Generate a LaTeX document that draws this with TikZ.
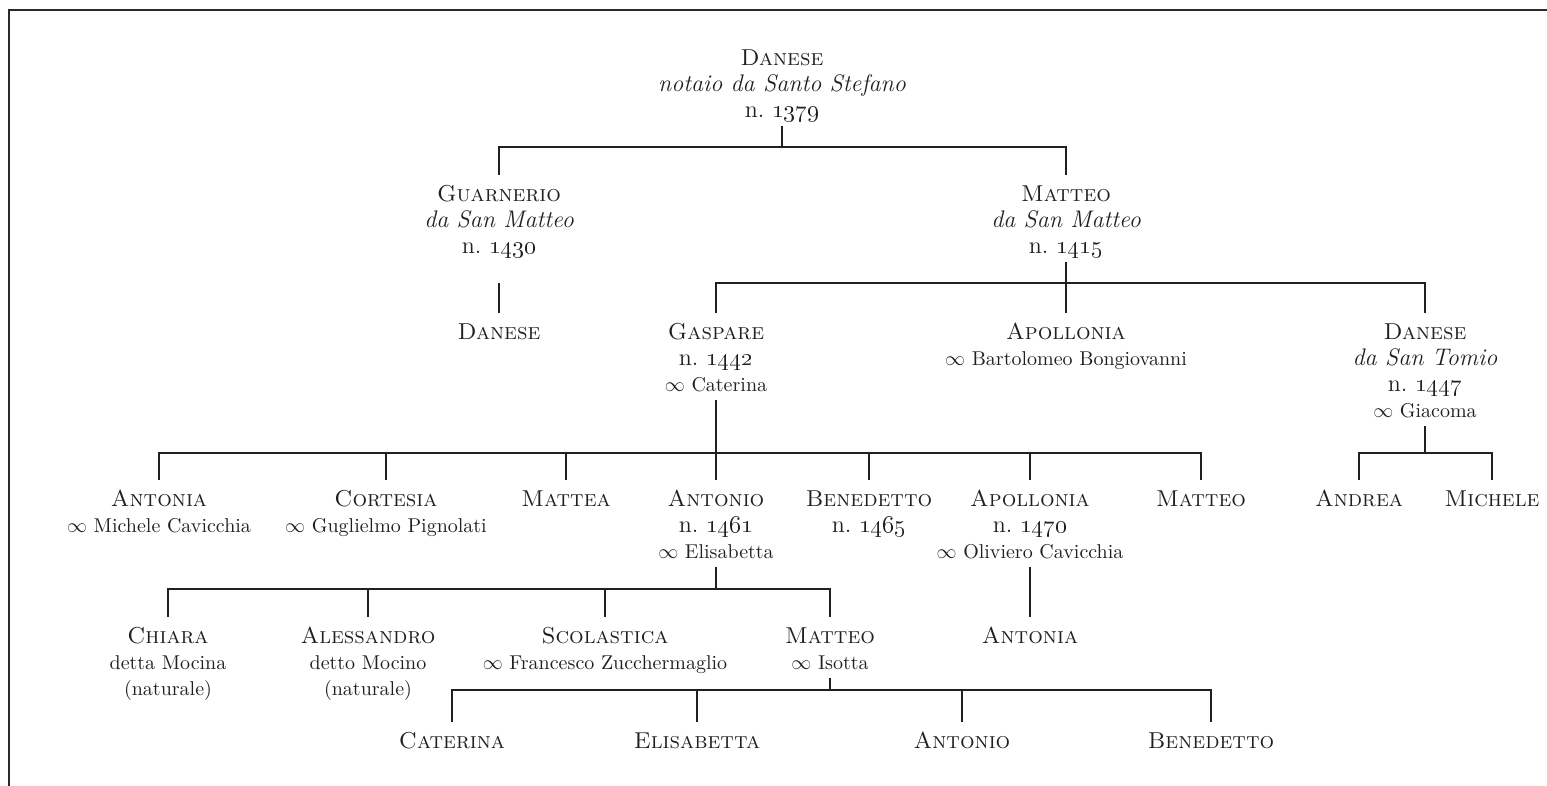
\documentclass[tikz,border=0pt]{standalone}
\usepackage{tikz}
\definecolor{ink}{HTML}{231F20}
\definecolor{framec}{HTML}{2A2A2A}
\newcommand{\nm}[1]{{\fontsize{11.5}{13}\selectfont\textsc{#1}}}
\newcommand{\ep}[1]{{\fontsize{12}{13}\selectfont\textit{#1}}}
\newcommand{\dt}[1]{{\fontsize{12}{13}\selectfont n.~\oldstylenums{#1}}}
\newcommand{\spo}[1]{{\fontsize{10}{13}\selectfont$\infty$~#1}}
\newcommand{\nt}[1]{{\fontsize{10}{13}\selectfont #1}}
\begin{document}
\begin{tikzpicture}[x=0.5pt,y=-0.5pt,
  person/.style={align=center, inner sep=0pt, anchor=north, text=ink,
    font=\fontsize{12}{13}\selectfont},
  conn/.style={draw=ink, line width=1.3pt},
  frameline/.style={draw=framec, line width=1pt}]
\useasboundingbox (0,0) rectangle (1547,786);
\draw[frameline] (8.5,800) -- (8.5,10) -- (1560,10);

% bar levels
\coordinate (b0) at (0,147);
\coordinate (b1) at (0,283);
\coordinate (b2) at (0,453);
\coordinate (b3) at (0,589);
\coordinate (b4) at (0,690);

% Row 0
\node[person] (d0) at (782,47) {\strut\nm{Danese}\\\ep{notaio da Santo Stefano}\\\dt{1379}\strut};
% Row 1
\node[person] (guar) at (499,183) {\strut\nm{Guarnerio}\\\ep{da San Matteo}\\\dt{1430}\strut};
\node[person] (mat1) at (1066,183) {\strut\nm{Matteo}\\\ep{da San Matteo}\\\dt{1415}\strut};
% Row 2
\node[person] (dan1) at (499,321) {\strut\nm{Danese}\strut};
\node[person] (gas) at (716,321) {\strut\nm{Gaspare}\\\dt{1442}\\\spo{Caterina}\strut};
\node[person] (apo1) at (1066,321) {\strut\nm{Apollonia}\\\spo{Bartolomeo Bongiovanni}\strut};
\node[person] (dan2) at (1425,321) {\strut\nm{Danese}\\\ep{da San Tomio}\\\dt{1447}\\\spo{Giacoma}\strut};
% Row 3
\node[person] (antA) at (159,488) {\strut\nm{Antonia}\\\spo{Michele Cavicchia}\strut};
\node[person] (cort) at (386,488) {\strut\nm{Cortesia}\\\spo{Guglielmo Pignolati}\strut};
\node[person] (matA) at (566,488) {\strut\nm{Mattea}\strut};
\node[person] (anto) at (716,488) {\strut\nm{Antonio}\\\dt{1461}\\\spo{Elisabetta}\strut};
\node[person] (bene) at (869,488) {\strut\nm{Benedetto}\\\dt{1465}\strut};
\node[person] (apo2) at (1030,488) {\strut\nm{Apollonia}\\\dt{1470}\\\spo{Oliviero Cavicchia}\strut};
\node[person] (mat2) at (1201,488) {\strut\nm{Matteo}\strut};
\node[person] (andr) at (1359,488) {\strut\nm{Andrea}\strut};
\node[person] (mich) at (1492,488) {\strut\nm{Michele}\strut};
% Row 4
\node[person] (chia) at (168,625) {\strut\nm{Chiara}\\\nt{detta Mocina}\\\nt{(naturale)}\strut};
\node[person] (ales) at (368,625) {\strut\nm{Alessandro}\\\nt{detto Mocino}\\\nt{(naturale)}\strut};
\node[person] (scol) at (605,625) {\strut\nm{Scolastica}\\\spo{Francesco Zucchermaglio}\strut};
\node[person] (mat3) at (830,625) {\strut\nm{Matteo}\\\spo{Isotta}\strut};
\node[person] (antB) at (1030,625) {\strut\nm{Antonia}\strut};
% Row 5
\node[person] (cate) at (452,730) {\strut\nm{Caterina}\strut};
\node[person] (elis) at (697,730) {\strut\nm{Elisabetta}\strut};
\node[person] (antC) at (962,730) {\strut\nm{Antonio}\strut};
\node[person] (benC) at (1211,730) {\strut\nm{Benedetto}\strut};

% Danese -> Guarnerio, Matteo
\draw[conn] (d0.south) -- (d0.south |- b0);
\draw[conn] ([yshift=4pt]guar.north) -- (guar.north |- b0) -- (mat1.north |- b0) -- ([yshift=4pt]mat1.north);
% Guarnerio -> Danese
\draw[conn] (guar.south |- b1) -- ([yshift=4pt]dan1.north);
% Matteo -> Gaspare, Apollonia, Danese
\draw[conn] (mat1.south) -- ([yshift=4pt]apo1.north);
\draw[conn] ([yshift=4pt]gas.north) -- (gas.north |- b1) -- (dan2.north |- b1) -- ([yshift=4pt]dan2.north);
% Gaspare -> children
\draw[conn] (gas.south) -- (gas.south |- b2);
\draw[conn] ([yshift=4pt]antA.north) -- (antA.north |- b2) -- (mat2.north |- b2) -- ([yshift=4pt]mat2.north);
\draw[conn] (cort.north |- b2) -- ([yshift=4pt]cort.north);
\draw[conn] (matA.north |- b2) -- ([yshift=4pt]matA.north);
\draw[conn] (anto.north |- b2) -- ([yshift=4pt]anto.north);
\draw[conn] (bene.north |- b2) -- ([yshift=4pt]bene.north);
\draw[conn] (apo2.north |- b2) -- ([yshift=4pt]apo2.north);
% Danese da San Tomio -> Andrea, Michele
\draw[conn] (dan2.south) -- (dan2.south |- b2);
\draw[conn] ([yshift=4pt]andr.north) -- (andr.north |- b2) -- (mich.north |- b2) -- ([yshift=4pt]mich.north);
% Antonio -> children
\draw[conn] (anto.south) -- (anto.south |- b3);
\draw[conn] ([yshift=4pt]chia.north) -- (chia.north |- b3) -- (mat3.north |- b3) -- ([yshift=4pt]mat3.north);
\draw[conn] (ales.north |- b3) -- ([yshift=4pt]ales.north);
\draw[conn] (scol.north |- b3) -- ([yshift=4pt]scol.north);
% Apollonia -> Antonia
\draw[conn] (apo2.south) -- ([yshift=4pt]antB.north);
% Matteo -> children
\draw[conn] (mat3.south) -- (mat3.south |- b4);
\draw[conn] ([yshift=4pt]cate.north) -- (cate.north |- b4) -- (benC.north |- b4) -- ([yshift=4pt]benC.north);
\draw[conn] (elis.north |- b4) -- ([yshift=4pt]elis.north);
\draw[conn] (antC.north |- b4) -- ([yshift=4pt]antC.north);
\end{tikzpicture}
\end{document}
